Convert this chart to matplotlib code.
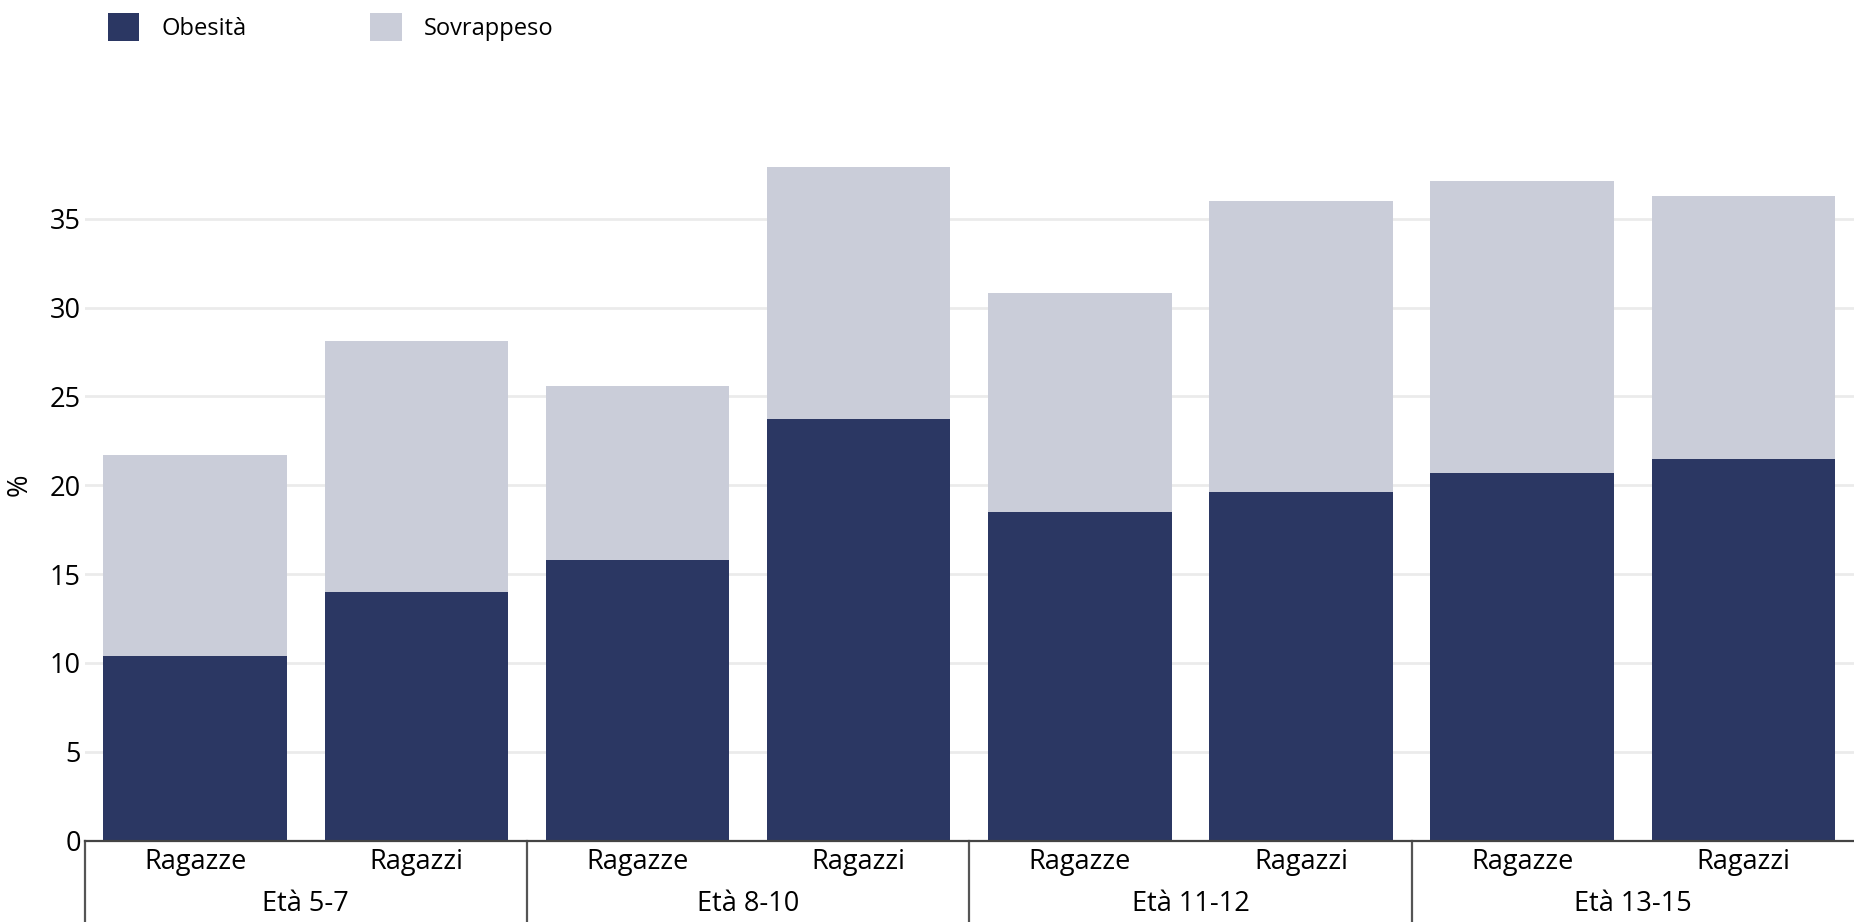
import matplotlib.pyplot as plt
import numpy as np

plt.rcParams['font.family'] = ['Open Sans', 'DejaVu Sans']

# dati
gruppi = ['Età 5-7', 'Età 8-10', 'Età 11-12', 'Età 13-15']
sessi = ['Ragazze', 'Ragazzi']
obesita = [10.4, 14.0, 15.8, 23.7, 18.5, 19.6, 20.7, 21.5]
sovrappeso = [11.3, 14.1, 9.8, 14.2, 12.3, 16.4, 16.4, 14.8]
yticks = [0, 5, 10, 15, 20, 25, 30, 35]

col_obes = '#2b3763'
col_sovr = '#cacdd9'
fs = 19.5

fig = plt.figure(figsize=(18.54, 9.22), dpi=100)
ax = fig.add_axes([0.0456, 0.0882, 0.9544, 0.771])

x = np.arange(len(obesita))
ax.bar(x, obesita, width=0.83, color=col_obes, label='Obesità', zorder=3)
ax.bar(x, sovrappeso, width=0.83, bottom=obesita, color=col_sovr,
       label='Sovrappeso', zorder=3)

ax.set_xlim(-0.5, len(obesita) - 0.5)
ax.set_ylim(0, 40)
ax.set_yticks(yticks)
ax.tick_params(axis='y', length=0, pad=2.5, labelsize=fs)
ax.grid(axis='y', color='#ebebeb', linewidth=2, zorder=0)
for s in ['top', 'right', 'left']:
	ax.spines[s].set_visible(False)
ax.spines['bottom'].set_color('#444444')
ax.spines['bottom'].set_linewidth(1.6)
ax.spines['bottom'].set_zorder(4)

# etichette asse x
ax.set_xticks(x)
ax.set_xticklabels(sessi * len(gruppi))
ax.tick_params(axis='x', length=0, pad=5.5, labelsize=fs)

trans = ax.get_xaxis_transform()
h_ax = 0.771 * 922
for i, g in enumerate(gruppi):
	ax.text(2 * i + 0.5, -63 / h_ax, g, transform=trans, ha='center',
	        va='center', fontsize=fs)
	ax.plot([2 * i - 0.5, 2 * i - 0.5], [0, -85 / h_ax], transform=trans,
	        color='#555555', linewidth=1.6, clip_on=False)

ax.set_ylabel('%', fontsize=fs)
ax.yaxis.set_label_coords(-0.0286, 0.5)

fig.legend(loc='upper left', bbox_to_anchor=(0.051, 1.0), ncol=2,
           frameon=False, fontsize=17, handlelength=1.35, handleheight=1.45,
           handletextpad=0.95, columnspacing=5.2, borderaxespad=0.15)

fig.savefig('out.png', dpi=100)
